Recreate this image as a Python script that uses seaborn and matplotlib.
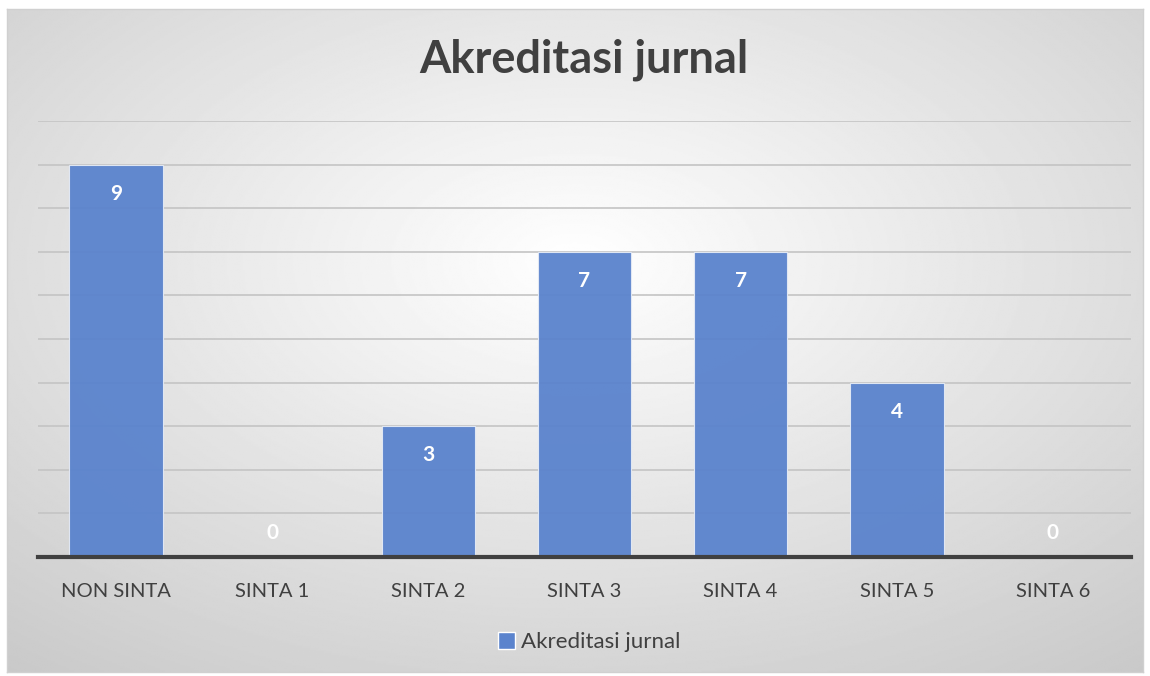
import numpy as np
import pandas as pd
import matplotlib.pyplot as plt
import seaborn as sns
from matplotlib.patches import Rectangle

# Chart data
categories = ["NON SINTA", "SINTA 1", "SINTA 2", "SINTA 3", "SINTA 4", "SINTA 5", "SINTA 6"]
counts = [9, 0, 3, 7, 7, 4, 0]
series_name = "Akreditasi jurnal"

df = pd.DataFrame({"Kategori": categories, "Jumlah": counts})

sns.set_style("white")
plt.rcParams["font.family"] = ["Lato", "DejaVu Sans"]

bar_color = "#5A83CD"

fig = plt.figure(figsize=(11.5, 6.76), dpi=100)

# Radial gradient background (Excel style)
bg = fig.add_axes([7 / 1150, 1 - 672 / 676, 1136 / 1150, 663 / 676], zorder=-10)
yy, xx = np.mgrid[1:0:400j, 0:1:700j]
r = np.sqrt(((xx - 0.5) / 0.75) ** 2 + ((yy - 0.62) / 0.75) ** 2)
shade = np.clip(1 - 0.2 * r, 0.78, 1.0)
bg.imshow(shade, cmap="gray", vmin=0, vmax=1, aspect="auto", extent=[0, 1, 0, 1])
bg.set_xticks([])
bg.set_yticks([])
for s in bg.spines.values():
    s.set_color("#d0d0d0")
    s.set_linewidth(1)

ax = fig.add_axes([38 / 1150, 1 - 557 / 676, 1093 / 1150, 436 / 676])
ax.patch.set_alpha(0)

sns.barplot(data=df, x="Kategori", y="Jumlah", color=bar_color, saturation=1,
            alpha=0.95, width=0.6, edgecolor="#e4eaf5", linewidth=0.8, ax=ax, zorder=3)

ax.set_ylim(0, 10)
ax.set_xlim(-0.5, 6.5)
ax.set_yticks(range(0, 11))
ax.yaxis.grid(True, color="#c4c4c4", lw=1.2, zorder=0)
ax.set_axisbelow(True)
ax.set_yticklabels([])
ax.tick_params(axis="both", length=0)
ax.tick_params(axis="x", labelsize=14.5, labelcolor="#404040", pad=19)
ax.set_xlabel("")
ax.set_ylabel("")
for s in ["top", "right", "left"]:
    ax.spines[s].set_visible(False)
ax.spines["bottom"].set_color("#404040")
ax.spines["bottom"].set_linewidth(3)
ax.spines["bottom"].set_zorder(5)

# Data labels inside end of bars (zero values sit just above the axis)
for i, v in enumerate(counts):
    off = -21 if v > 0 else 17
    ax.annotate(str(v), (i, v), xytext=(0, off), textcoords="offset points",
                ha="center", va="center", color="white", fontsize=15,
                fontweight="bold", zorder=6)

fig.text(584 / 1150, 1 - 60 / 676, series_name, ha="center", va="center",
         fontsize=32.5, fontweight="bold", color="#404040")

handle = Rectangle((0, 0), 1, 1, facecolor=bar_color)
fig.legend([handle], [series_name], loc="center", bbox_to_anchor=(589 / 1150, 1 - 642 / 676),
           frameon=False, fontsize=16, handlelength=0.8, handleheight=0.8,
           handletextpad=0.25, labelcolor="#404040")

fig.savefig("out.png", dpi=100)
